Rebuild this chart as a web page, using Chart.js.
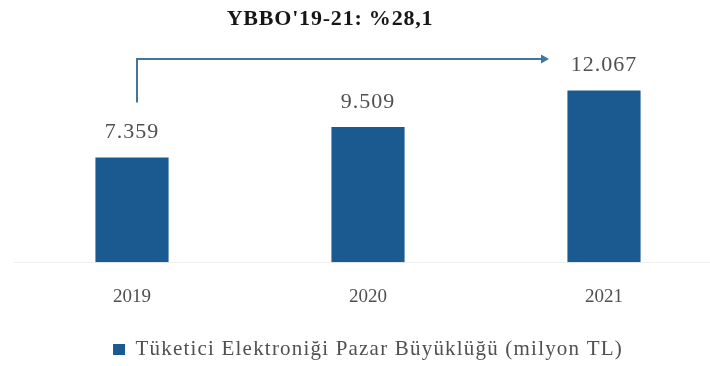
<!DOCTYPE html>
<html>
<head>
<meta charset="utf-8">
<script src="https://cdn.jsdelivr.net/npm/chart.js@4"></script>
<style>
  html, body { margin: 0; padding: 0; background: #fff; overflow: hidden; }
  #wrap { width: 722px; height: 366px; }
</style>
</head>
<body>
<div id="wrap"><canvas id="c" width="722" height="366"></canvas></div>
<script>
// Consumer electronics market size, million TL
const years = ['2019', '2020', '2021'];
const marketSize = [7359, 9509, 12067];
const seriesName = 'Tüketici Elektroniği Pazar Büyüklüğü (milyon TL)';
const cagrLabel = "YBBO'19-21: %28,1";

const SERIF = '"Liberation Serif", "DejaVu Serif", serif';
const BAR_COLOR = '#1b5a91';
const ARROW_COLOR = '#3f76a2';
const LEGEND_SPACING = '1.2px';

function formatTr(v) {
  return String(v).replace(/\B(?=(\d{3})+(?!\d))/g, '.');
}

function withSpacing(fn) {
  return function (...args) {
    const c = this.ctx;
    const prev = c.letterSpacing;
    c.letterSpacing = LEGEND_SPACING;
    try { return fn.apply(this, args); } finally { c.letterSpacing = prev; }
  };
}

// Wider tracking for the legend text, both when it is measured and drawn
const legendTracking = {
  id: 'legendTracking',
  beforeUpdate(chart) {
    const lg = chart.legend;
    if (lg && !lg._tracked) {
      lg.fit = withSpacing(lg.fit);
      lg.draw = withSpacing(lg.draw);
      lg._tracked = true;
    }
  }
};

// Value labels above bars, CAGR arrow and headline
const annotations = {
  id: 'annotations',
  afterDatasetsDraw(chart) {
    const ctx = chart.ctx;
    const meta = chart.getDatasetMeta(0);
    ctx.save();

    ctx.letterSpacing = '1px';
    ctx.font = '22px ' + SERIF;
    ctx.fillStyle = '#505050';
    ctx.textAlign = 'center';
    ctx.textBaseline = 'middle';
    meta.data.forEach((bar, i) => {
      ctx.fillText(formatTr(marketSize[i]), bar.x, bar.y - 25);
    });

    const first = meta.data[0];
    const last = meta.data[meta.data.length - 1];
    const x0 = first.x + 5;
    const yTop = 59;
    const yStart = first.y - 55;
    const xEnd = last.x - 55;
    ctx.strokeStyle = ARROW_COLOR;
    ctx.lineWidth = 2;
    ctx.beginPath();
    ctx.moveTo(x0, yStart);
    ctx.lineTo(x0, yTop);
    ctx.lineTo(xEnd - 6, yTop);
    ctx.stroke();
    ctx.fillStyle = ARROW_COLOR;
    ctx.beginPath();
    ctx.moveTo(xEnd, yTop);
    ctx.lineTo(xEnd - 8, yTop - 4.5);
    ctx.lineTo(xEnd - 8, yTop + 4.5);
    ctx.closePath();
    ctx.fill();

    ctx.letterSpacing = '0.8px';
    ctx.font = 'bold 22px ' + SERIF;
    ctx.fillStyle = '#161616';
    ctx.fillText(cagrLabel, 330, 19);
    ctx.restore();
  }
};

new Chart(document.getElementById('c'), {
  type: 'bar',
  data: {
    labels: years,
    datasets: [{
      label: seriesName,
      data: marketSize,
      backgroundColor: BAR_COLOR,
      borderWidth: 0,
      categoryPercentage: 1,
      barPercentage: 0.31
    }]
  },
  options: {
    responsive: false,
    animation: false,
    layout: { padding: { left: 14, right: 0, top: 63, bottom: -4 } },
    plugins: {
      tooltip: { enabled: false },
      legend: {
        position: 'bottom',
        labels: {
          font: { family: SERIF, size: 21 },
          color: '#505050',
          boxWidth: 12,
          boxHeight: 11,
          padding: 16
        }
      }
    },
    scales: {
      x: {
        grid: { display: false },
        border: { display: true, color: '#efefef', width: 1 },
        ticks: {
          font: { family: SERIF, size: 19 },
          color: '#505050',
          padding: 15
        }
      },
      y: {
        display: false,
        min: 0,
        max: 14000
      }
    }
  },
  plugins: [legendTracking, annotations]
});
</script>
</body>
</html>
